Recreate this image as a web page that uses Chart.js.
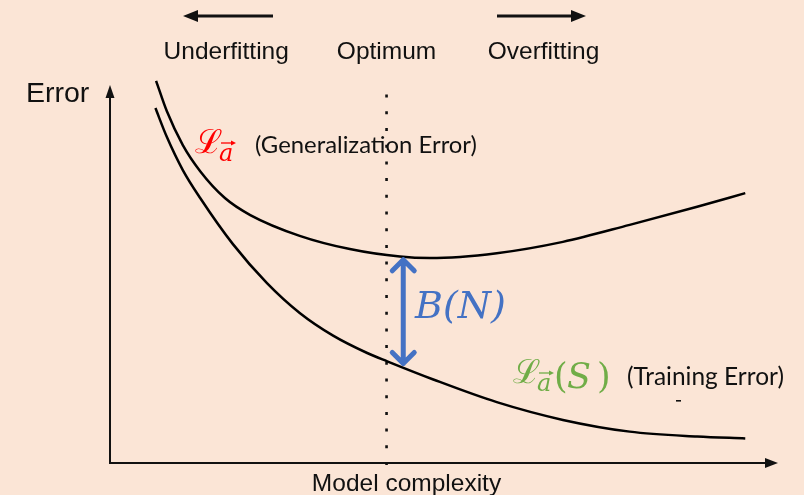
<!DOCTYPE html>
<html>
<head>
<meta charset="utf-8">
<script src="https://cdn.jsdelivr.net/npm/chart.js@4"></script>
<style>
  html, body { margin: 0; padding: 0; background: #FBE5D6; }
  #wrap { width: 804px; height: 495px; }
</style>
</head>
<body>
<div id="wrap"><canvas id="biasChart" width="804" height="495"></canvas></div>
<script>
// model complexity (x) vs error (y)
const genX   = [0.69, 0.85, 1.09, 1.35, 1.72, 2.10, 2.84, 3.59, 4.34, 4.79, 5.79, 6.78, 7.78, 8.79, 9.51];
const genY   = [10.11, 9.31, 8.41, 7.72, 7.01, 6.56, 6.01, 5.66, 5.46, 5.42, 5.55, 5.85, 6.30, 6.78, 7.14];
const trainX = [0.68, 0.85, 1.09, 1.35, 1.84, 2.35, 2.84, 3.34, 3.85, 4.15, 4.84, 5.79, 6.78, 7.78, 8.79, 9.51];
const trainY = [9.39, 8.63, 7.75, 7.01, 5.79, 4.76, 3.97, 3.37, 2.91, 2.69, 2.21, 1.61, 1.14, 0.83, 0.70, 0.65];

const optimumX = 4.14;   // dotted line
const gapX = 4.39;       // B(N) arrow
const gapTop = 5.43;
const gapBottom = 2.58;

const topLabels = ['Underfitting', 'Optimum', 'Overfitting'];
const topLabelX = [1.74, optimumX, 6.49];

const BG = '#FBE5D6';
const INK = '#111';
const BLUE = '#4472C4';
const RED = '#FF0000';
const GREEN = '#70AD47';

function arrowHead(ctx, x, y, angle, len, half) {
  ctx.save();
  ctx.translate(x, y);
  ctx.rotate(angle);
  ctx.beginPath();
  ctx.moveTo(0, 0);
  ctx.lineTo(-len, -half);
  ctx.lineTo(-len, half);
  ctx.closePath();
  ctx.fill();
  ctx.restore();
}

function fitText(ctx, text, family, width) {
  ctx.font = '20px ' + family;
  const size = 20 * width / ctx.measureText(text).width;
  ctx.font = size.toFixed(2) + 'px ' + family;
}

function mathL(ctx, x, y, color) {
  // script L with vector-a subscript
  ctx.fillStyle = color;
  ctx.strokeStyle = color;
  ctx.font = '33px "DejaVu Serif"';
  ctx.textAlign = 'left';
  ctx.fillText('ℒ', x - 1, y);
  ctx.font = 'italic 24px "DejaVu Serif"';
  ctx.fillText('a', x + 23, y + 8);
  ctx.lineWidth = 1.3;
  ctx.beginPath();
  ctx.moveTo(x + 25, y - 10);
  ctx.lineTo(x + 37, y - 10);
  ctx.stroke();
  arrowHead(ctx, x + 40, y - 10, 0, 5, 2.5);
}

const decor = {
  id: 'decor',
  beforeDraw(chart) {
    const ctx = chart.ctx;
    ctx.save();
    ctx.fillStyle = BG;
    ctx.fillRect(0, 0, chart.width, chart.height);
    ctx.restore();
  },
  beforeDatasetsDraw(chart) {
    const { ctx, chartArea: a, scales: { x, y } } = chart;
    ctx.save();
    ctx.strokeStyle = INK;
    ctx.fillStyle = INK;
    ctx.lineWidth = 2;
    // axes
    ctx.beginPath();
    ctx.moveTo(a.left, a.top + 6);
    ctx.lineTo(a.left, a.bottom);
    ctx.lineTo(a.right - 8, a.bottom);
    ctx.stroke();
    arrowHead(ctx, a.left, a.top, -Math.PI / 2, 13, 4.5);
    arrowHead(ctx, a.right, a.bottom, 0, 13, 5);
    // optimum dotted line
    const ox = x.getPixelForValue(optimumX);
    ctx.lineWidth = 2.6;
    ctx.setLineDash([3, 13.7]);
    ctx.beginPath();
    ctx.moveTo(ox, a.bottom + 2);
    ctx.lineTo(ox, y.getPixelForValue(9.85));
    ctx.stroke();
    ctx.restore();
  },
  afterDatasetsDraw(chart) {
    const { ctx, scales: { x, y } } = chart;
    ctx.save();
    ctx.textBaseline = 'alphabetic';

    // top arrows
    ctx.strokeStyle = INK;
    ctx.fillStyle = INK;
    ctx.lineWidth = 3;
    ctx.beginPath();
    ctx.moveTo(273, 16); ctx.lineTo(192, 16);
    ctx.moveTo(497, 16); ctx.lineTo(577, 16);
    ctx.stroke();
    arrowHead(ctx, 183, 16, Math.PI, 15, 6);
    arrowHead(ctx, 586, 16, 0, 15, 6);

    // plain labels
    ctx.font = '24.5px "Liberation Sans", Arial, sans-serif';
    ctx.textAlign = 'center';
    topLabels.forEach((t, i) => ctx.fillText(t, x.getPixelForValue(topLabelX[i]), 59));
    ctx.fillText('Model complexity', 406.5, 491);
    ctx.font = '28.5px "Liberation Sans", Arial, sans-serif';
    ctx.textAlign = 'left';
    ctx.fillText('Error', 26, 102);

    // generalization error label
    mathL(ctx, 196, 153, RED);
    ctx.fillStyle = INK;
    fitText(ctx, '(Generalization Error)', 'Lato, sans-serif', 222);
    ctx.fillText('(Generalization Error)', 255, 153);

    // training error label
    mathL(ctx, 514, 383, GREEN);
    ctx.fillStyle = GREEN;
    ctx.font = '35px "DejaVu Serif"';
    ctx.fillText('(', 554, 388);
    ctx.fillText(')', 597, 388);
    ctx.font = 'italic 35px "DejaVu Serif"';
    ctx.fillText('S', 567, 388);
    ctx.fillStyle = INK;
    fitText(ctx, '(Training Error)', 'Lato, sans-serif', 157);
    ctx.fillText('(Training Error)', 627, 385);
    ctx.fillRect(676, 400, 5, 1.6);

    // B(N) gap arrow
    const gx = x.getPixelForValue(gapX);
    const gt = y.getPixelForValue(gapTop);
    const gb = y.getPixelForValue(gapBottom);
    ctx.strokeStyle = BLUE;
    ctx.lineWidth = 5;
    ctx.lineCap = 'round';
    ctx.lineJoin = 'round';
    ctx.beginPath();
    ctx.moveTo(gx, gt + 2); ctx.lineTo(gx, gb - 2);
    ctx.moveTo(gx - 11, gt + 13); ctx.lineTo(gx, gt + 2); ctx.lineTo(gx + 11, gt + 13);
    ctx.moveTo(gx - 11, gb - 13); ctx.lineTo(gx, gb - 2); ctx.lineTo(gx + 11, gb - 13);
    ctx.stroke();
    ctx.fillStyle = BLUE;
    ctx.font = 'italic 38px "DejaVu Serif"';
    ctx.fillText('B(N)', 415, 318);
    ctx.restore();
  }
};

const lineStyle = {
  showLine: true,
  borderColor: '#000',
  borderWidth: 2.5,
  pointRadius: 0,
  cubicInterpolationMode: 'monotone',
  clip: false
};

new Chart(document.getElementById('biasChart'), {
  type: 'scatter',
  data: {
    datasets: [
      { label: 'Generalization Error', data: genX.map((v, i) => ({ x: v, y: genY[i] })), ...lineStyle },
      { label: 'Training Error', data: trainX.map((v, i) => ({ x: v, y: trainY[i] })), ...lineStyle }
    ]
  },
  options: {
    responsive: false,
    animation: false,
    events: [],
    layout: { padding: { left: 110, right: 26, top: 85, bottom: 32 } },
    plugins: { legend: { display: false }, tooltip: { enabled: false } },
    scales: {
      x: { type: 'linear', min: 0, max: 10, display: false },
      y: { type: 'linear', min: 0, max: 10, display: false }
    }
  },
  plugins: [decor]
});
</script>
</body>
</html>
